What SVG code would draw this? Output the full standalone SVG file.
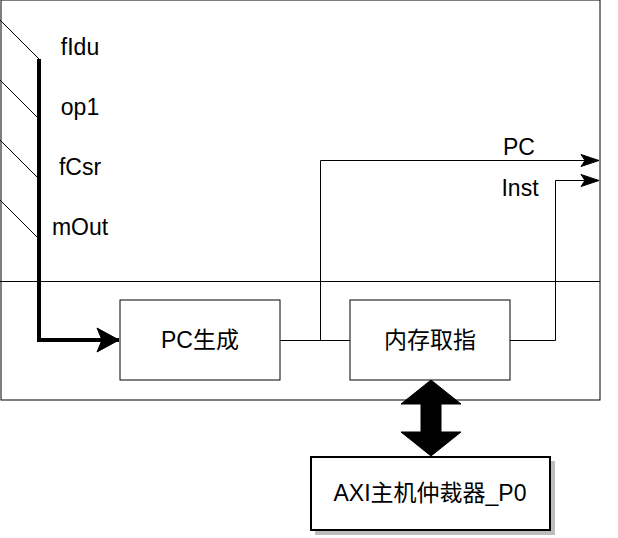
<svg xmlns="http://www.w3.org/2000/svg" width="618" height="538" viewBox="0 0 618 538">
  <style>
    text { font-family: "Liberation Sans", Arial, "Noto Sans CJK SC", sans-serif; font-size: 23px; fill: #000; }
    .box { fill: #fff; stroke: #000; stroke-width: 1; }
    .line { fill: none; stroke: #000; stroke-width: 1; }
  </style>
  <defs>
    <marker id="arrow" viewBox="0 0 20 14" refX="19" refY="7" markerWidth="20" markerHeight="14" markerUnits="userSpaceOnUse" orient="auto">
      <path d="M1,1 L19,7 L1,13 L5,7 Z" fill="#000" stroke="#000" stroke-width="1"/>
    </marker>
    <marker id="thickArrow" viewBox="0 0 24 26" refX="23" refY="13" markerWidth="24" markerHeight="26" markerUnits="userSpaceOnUse" orient="auto">
      <path d="M1,1 L23,13 L1,25 L6,13 Z" fill="#000" stroke="#000" stroke-width="1"/>
    </marker>
    <filter id="shadow" x="-10%" y="-10%" width="130%" height="130%">
      <feOffset dx="0" dy="0"/>
    </filter>
  </defs>

  <g id="outer-frame">
    <rect x="1" y="0" width="599" height="400" fill="#fff" stroke="#000" stroke-width="1"/>
    <line x1="0" y1="281.5" x2="600" y2="281.5" class="line"/>
  </g>

  <g id="bus-inputs">
    <line x1="0" y1="20" x2="39" y2="59" class="line"/>
    <line x1="0" y1="80" x2="39" y2="119" class="line"/>
    <line x1="0" y1="140" x2="39" y2="179" class="line"/>
    <line x1="0" y1="200" x2="39" y2="239" class="line"/>
    <text x="80" y="55" text-anchor="middle">fIdu</text>
    <text x="80" y="115" text-anchor="middle">op1</text>
    <text x="80" y="175" text-anchor="middle">fCsr</text>
    <text x="80" y="235" text-anchor="middle">mOut</text>
  </g>

  <g id="connectors">
    <path d="M39,59 L39,340 L119,340" fill="none" stroke="#000" stroke-width="4" marker-end="url(#thickArrow)"/>
    <path d="M280,340.5 L350,340.5" class="line"/>
    <path d="M320.5,340.5 L320.5,160.5 L599,160.5" class="line" marker-end="url(#arrow)"/>
    <path d="M510,340.5 L555.5,340.5 L555.5,180.5 L599,180.5" class="line" marker-end="url(#arrow)"/>
    <polygon points="431,380 461,404 441,404 441,432 461,432 431,456 401,432 421,432 421,404 401,404" fill="#000" stroke="#000" stroke-width="1"/>
  </g>

  <g id="pc-label">
    <text x="519" y="155" text-anchor="middle">PC</text>
  </g>
  <g id="inst-label">
    <text x="520" y="196" text-anchor="middle">Inst</text>
  </g>

  <g id="pc-gen">
    <rect x="120" y="300" width="160" height="80" class="box"/>
    <text x="200" y="348" text-anchor="middle">PC生成</text>
  </g>

  <g id="mem-fetch">
    <rect x="350" y="300" width="160" height="80" class="box"/>
    <text x="430" y="348" text-anchor="middle">内存取指</text>
  </g>

  <g id="axi-arbiter">
    <rect x="315" y="461" width="240" height="74" fill="#bdbdbd" stroke="none"/>
    <rect x="311" y="457" width="239" height="73" fill="#fff" stroke="#000" stroke-width="2"/>
    <text x="430" y="501" text-anchor="middle">AXI主机仲裁器_P0</text>
  </g>
</svg>
